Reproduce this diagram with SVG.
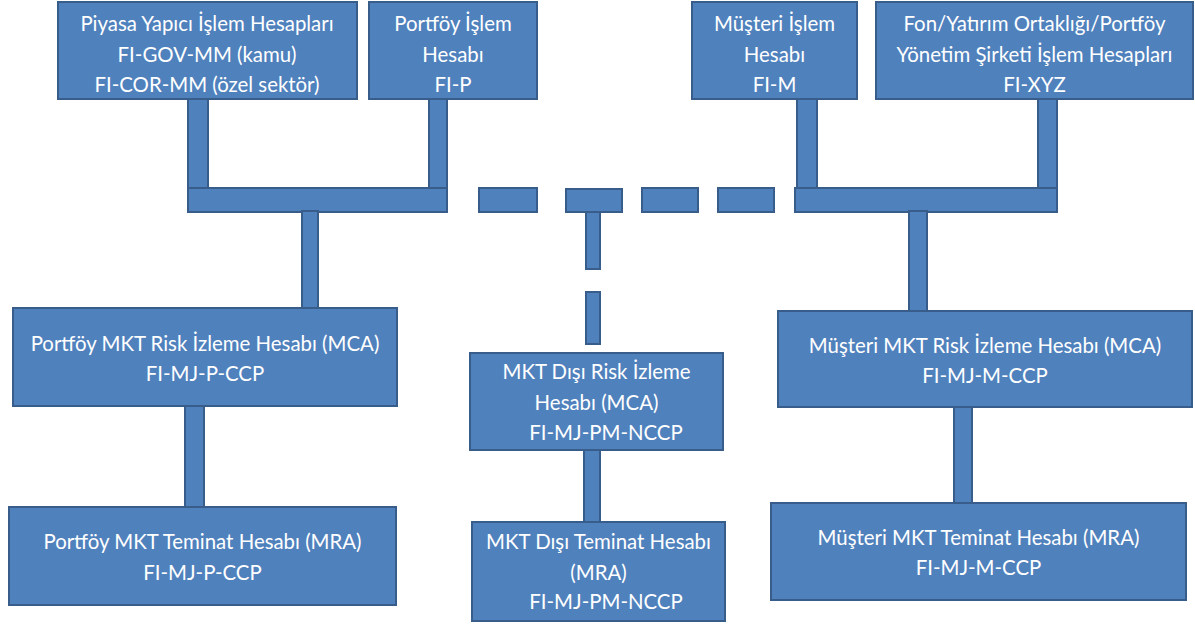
<svg xmlns="http://www.w3.org/2000/svg" width="1195" height="624" viewBox="0 0 1195 624">
  <style>
    .box { fill: #4F81BD; stroke: #385D8A; stroke-width: 2; }
    .bar { fill: #4F81BD; stroke: #385D8A; stroke-width: 2; }
    .lbl { fill: #FFFFFF; font-family: Lato, "Open Sans", sans-serif; font-size: 20.4px; text-anchor: middle; }
  </style>
  <rect width="1195" height="624" fill="#FFFFFF"/>

  <!-- connectors: thick bars joining the account boxes -->
  <g id="connectors">
    <!-- left trading-account bus -->
    <rect class="bar" x="188" y="98" width="20" height="92"/>
    <rect class="bar" x="429" y="98" width="18" height="92"/>
    <rect class="bar" x="188" y="188" width="259" height="24"/>
    <rect class="bar" x="302" y="211" width="16" height="98"/>
    <rect class="bar" x="185" y="405" width="19" height="103"/>
    <!-- dashed link between the two buses -->
    <rect class="bar" x="479" y="188" width="58" height="24"/>
    <rect class="bar" x="586" y="210" width="14" height="59"/>
    <rect class="bar" x="566" y="189" width="56" height="23"/>
    <rect class="bar" x="642" y="188" width="56" height="24"/>
    <rect class="bar" x="718" y="188" width="56" height="24"/>
    <rect class="bar" x="586" y="292" width="14" height="52"/>
    <rect class="bar" x="584" y="449" width="16" height="74"/>
    <!-- right trading-account bus -->
    <rect class="bar" x="797" y="98" width="20" height="92"/>
    <rect class="bar" x="1038" y="98" width="19" height="92"/>
    <rect class="bar" x="795" y="188" width="262" height="24"/>
    <rect class="bar" x="909" y="211" width="18" height="101"/>
    <rect class="bar" x="954" y="406" width="18" height="98"/>
  </g>

  <g id="piyasa-yapici">
    <rect class="box" x="58" y="2" width="299" height="97"/>
    <text class="lbl" x="207" y="31">Piyasa Yapıcı İşlem Hesapları</text>
    <text class="lbl" x="207" y="62">FI-GOV-MM (kamu)</text>
    <text class="lbl" x="207" y="92">FI-COR-MM (özel sektör)</text>
  </g>

  <g id="portfoy-islem">
    <rect class="box" x="369" y="2" width="168" height="97"/>
    <text class="lbl" x="453" y="31">Portföy İşlem</text>
    <text class="lbl" x="453" y="62">Hesabı</text>
    <text class="lbl" x="453" y="92">FI-P</text>
  </g>

  <g id="musteri-islem">
    <rect class="box" x="692" y="2" width="165" height="97"/>
    <text class="lbl" x="774.5" y="31">Müşteri İşlem</text>
    <text class="lbl" x="774.5" y="62">Hesabı</text>
    <text class="lbl" x="774.5" y="92">FI-M</text>
  </g>

  <g id="fon-yatirim">
    <rect class="box" x="876" y="2" width="317" height="97"/>
    <text class="lbl" x="1034.5" y="31">Fon/Yatırım Ortaklığı/Portföy</text>
    <text class="lbl" x="1034.5" y="62">Yönetim Şirketi İşlem Hesapları</text>
    <text class="lbl" x="1034.5" y="92">FI-XYZ</text>
  </g>

  <g id="portfoy-mca">
    <rect class="box" x="13" y="308" width="384" height="98"/>
    <text class="lbl" x="205" y="351">Portföy MKT Risk İzleme Hesabı (MCA)</text>
    <text class="lbl" x="205" y="381">FI-MJ-P-CCP</text>
  </g>

  <g id="portfoy-mra">
    <rect class="box" x="9" y="507" width="387" height="98"/>
    <text class="lbl" x="202.5" y="549">Portföy MKT Teminat Hesabı (MRA)</text>
    <text class="lbl" x="202.5" y="580">FI-MJ-P-CCP</text>
  </g>

  <g id="mkt-disi-mca">
    <rect class="box" x="470" y="353" width="253" height="97"/>
    <text class="lbl" x="596.5" y="379">MKT Dışı Risk İzleme</text>
    <text class="lbl" x="596.5" y="410">Hesabı (MCA)</text>
    <text class="lbl" x="606" y="440">FI-MJ-PM-NCCP</text>
  </g>

  <g id="mkt-disi-mra">
    <rect class="box" x="472" y="522" width="253" height="99"/>
    <text class="lbl" x="598.5" y="549">MKT Dışı Teminat Hesabı</text>
    <text class="lbl" x="598.5" y="580">(MRA)</text>
    <text class="lbl" x="606" y="609">FI-MJ-PM-NCCP</text>
  </g>

  <g id="musteri-mca">
    <rect class="box" x="778" y="311" width="414" height="96"/>
    <text class="lbl" x="985" y="353">Müşteri MKT Risk İzleme Hesabı (MCA)</text>
    <text class="lbl" x="985" y="383">FI-MJ-M-CCP</text>
  </g>

  <g id="musteri-mra">
    <rect class="box" x="771" y="503" width="415" height="97"/>
    <text class="lbl" x="978.5" y="545">Müşteri MKT Teminat Hesabı (MRA)</text>
    <text class="lbl" x="978.5" y="575">FI-MJ-M-CCP</text>
  </g>
</svg>
